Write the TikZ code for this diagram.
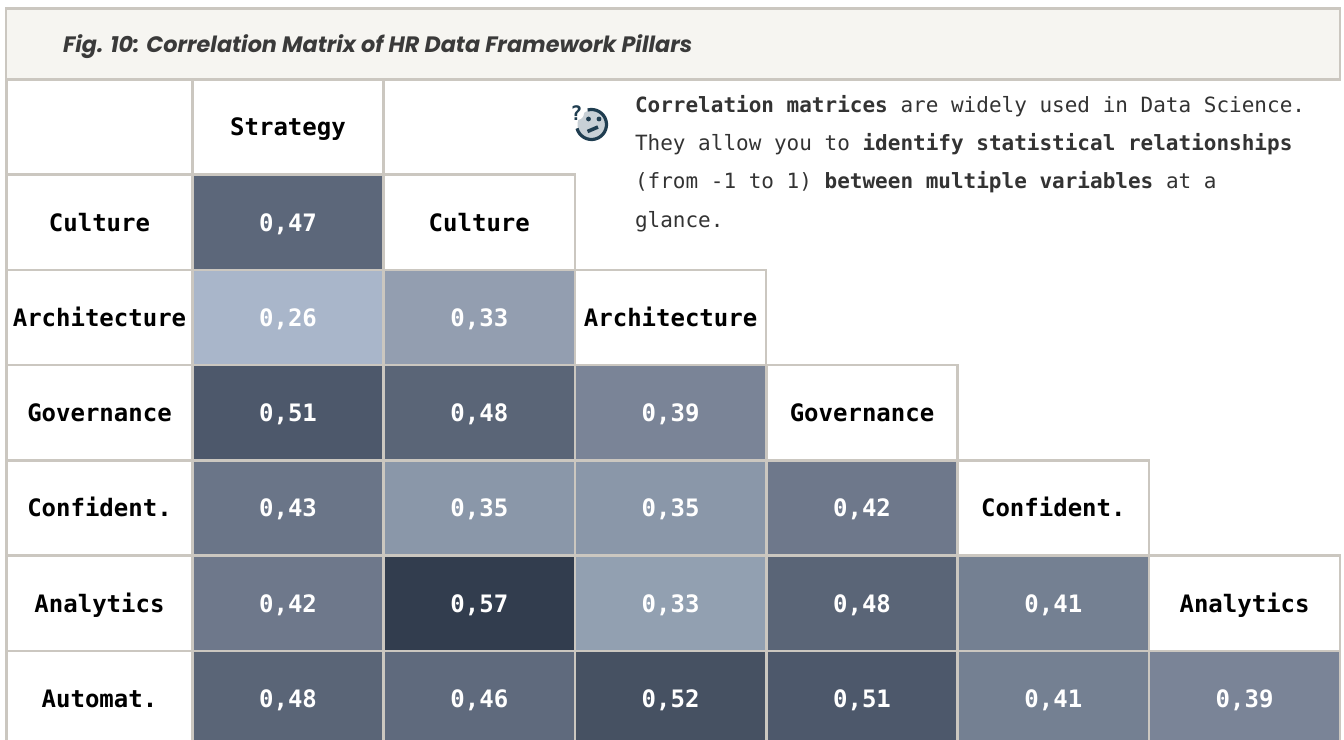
\documentclass[tikz,border=0pt]{standalone}
\usepackage{fontspec}
\setmainfont{Poppins}
\setmonofont{DejaVu Sans Mono}
\definecolor{gridline}{HTML}{CBC7C0}
\definecolor{titlebg}{HTML}{F6F5F1}
\definecolor{titletxt}{HTML}{3A3A3A}
\definecolor{bodytxt}{HTML}{333333}
\definecolor{icondark}{HTML}{1F3D50}
\definecolor{iconfill}{HTML}{C8D0D6}
\definecolor{c47}{HTML}{5C677A}\definecolor{c26}{HTML}{A9B6CA}\definecolor{c33}{HTML}{939EB0}
\definecolor{c51}{HTML}{4D586B}\definecolor{c48}{HTML}{5A6577}\definecolor{c39}{HTML}{7A8497}
\definecolor{c43}{HTML}{6A7588}\definecolor{c35}{HTML}{8A97A9}\definecolor{c42}{HTML}{6E788B}
\definecolor{c57}{HTML}{323D4E}\definecolor{c33b}{HTML}{92A0B1}\definecolor{c41}{HTML}{748092}
\definecolor{c46}{HTML}{5F6A7D}\definecolor{c52}{HTML}{465162}
\tikzset{
  x=1pt,y=-1pt,
  cellbox/.style={draw=gridline,line width=2.5pt,minimum width=191pt,minimum height=95.3pt,inner sep=0pt,outer sep=0pt,anchor=center,text height=17.5pt,text depth=0pt},
  labelcell/.style={cellbox,fill=white,text=black,font=\ttfamily\bfseries\fontsize{24}{28}\selectfont},
  leftcell/.style={labelcell,minimum width=186pt},
  valcell/.style={cellbox,text=white,font=\ttfamily\bfseries\fontsize{24}{28}\selectfont},
  bodyline/.style={anchor=base west,inner sep=0pt,outer sep=0pt,text=bodytxt,font=\ttfamily\fontsize{21}{25}\selectfont},
}
\newcommand{\LC}[4]{\node[labelcell] (#1) at (#2,#3) {#4};}
\newcommand{\RH}[3]{\node[leftcell] (#1) at (99.5,#2) {#3};}
\begin{document}
\begin{tikzpicture}
\useasboundingbox (0,0) rectangle (1344,739);
\clip (0,0) rectangle (1344,739);
\fill[white] (0,0) rectangle (1344,739);
% left column
\RH{corner}{127}{}
\RH{lculture}{222.3}{Culture}
\RH{larch}{317.5}{Architecture}
\RH{lgov}{412.8}{Governance}
\RH{lconf}{508}{Confident.}
\RH{lana}{603.3}{Analytics}
\RH{lauto}{698.5}{Automat.}
% diagonal labels
\LC{dstrat}{288}{127}{Strategy}
\LC{dcult}{479.3}{222.3}{Culture}
\LC{darch}{670.6}{317.5}{Architecture}
\LC{dgov}{862}{412.8}{Governance}
\LC{dconf}{1053.3}{508}{Confident.}
\LC{dana}{1244.6}{603.3}{Analytics}
% values
\node[valcell,fill=c47] (v21) at (288,222.3) {0,47};
\node[valcell,fill=c26] (v31) at (288,317.5) {0,26};
\node[valcell,fill=c33] (v32) at (479.3,317.5) {0,33};
\node[valcell,fill=c51] (v41) at (288,412.8) {0,51};
\node[valcell,fill=c48] (v42) at (479.3,412.8) {0,48};
\node[valcell,fill=c39] (v43) at (670.6,412.8) {0,39};
\node[valcell,fill=c43] (v51) at (288,508) {0,43};
\node[valcell,fill=c35] (v52) at (479.3,508) {0,35};
\node[valcell,fill=c35] (v53) at (670.6,508) {0,35};
\node[valcell,fill=c42] (v54) at (862,508) {0,42};
\node[valcell,fill=c42] (v61) at (288,603.3) {0,42};
\node[valcell,fill=c57] (v62) at (479.3,603.3) {0,57};
\node[valcell,fill=c33b] (v63) at (670.6,603.3) {0,33};
\node[valcell,fill=c48] (v64) at (862,603.3) {0,48};
\node[valcell,fill=c41] (v65) at (1053.3,603.3) {0,41};
\node[valcell,fill=c48] (v71) at (288,698.5) {0,48};
\node[valcell,fill=c46] (v72) at (479.3,698.5) {0,46};
\node[valcell,fill=c52] (v73) at (670.6,698.5) {0,52};
\node[valcell,fill=c51] (v74) at (862,698.5) {0,51};
\node[valcell,fill=c41] (v75) at (1053.3,698.5) {0,41};
\node[valcell,fill=c39] (v76) at (1244.6,698.5) {0,39};
% title
\node[draw=gridline,line width=2.5pt,fill=titlebg,minimum width=1334pt,minimum height=71pt,inner sep=0pt,outer sep=0pt] (title) at (673,44) {};
\node[anchor=base west,inner sep=0pt,text=titletxt,font=\bfseries\itshape\fontsize{22.3}{26}\selectfont] (titletext) at (63,52) {Fig. 10: Correlation Matrix of HR Data Framework Pillars};
% note
\node[bodyline] (n1) at (635,112) {\textbf{Correlation matrices} are widely used in Data Science.};
\node[bodyline] (n2) at (635,150) {They allow you to \textbf{identify statistical relationships}};
\node[bodyline] (n3) at (635,188) {(from -1 to 1) \textbf{between multiple variables} at a};
\node[bodyline] (n4) at (635,227) {glance.};
% icon
\fill[iconfill] (591.5,124.5) circle (14);
\draw[icondark,line width=3.2pt] (591.5,124.5) ++(255:15) arc[start angle=255,end angle=525,radius=15];
\fill[white] (577,113) circle (7);
\fill[icondark] (588.5,119) circle (2.4) (599,119) circle (2.4);
\draw[icondark,line width=3.6pt] (587.5,131.5) -- (598,127);
\node[inner sep=0pt,text=icondark,font=\ttfamily\bfseries\fontsize{20}{22}\selectfont] (qmark) at (576.5,113.5) {?};
\end{tikzpicture}
\end{document}
